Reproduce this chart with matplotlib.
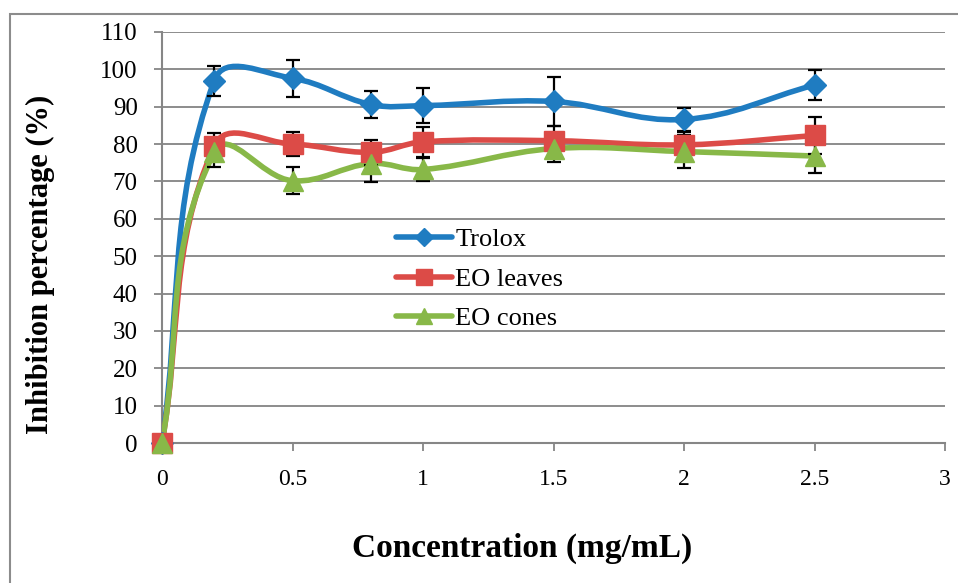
"""
Antioxidant activity: inhibition percentage vs concentration for Trolox and essential oils.
"""

import matplotlib

matplotlib.use("Agg")
import matplotlib.pyplot as plt
import numpy as np
from matplotlib.lines import Line2D
from matplotlib.patches import PathPatch, Rectangle
from matplotlib.path import Path

plt.rcParams["font.family"] = ["Liberation Serif", "DejaVu Serif"]

conc = [0, 0.2, 0.5, 0.8, 1.0, 1.5, 2.0, 2.5]

trolox = [0, 97.0, 97.6, 90.6, 90.3, 91.4, 86.6, 95.8]
trolox_err = [0, 4.0, 4.9, 3.7, 4.6, 6.5, 3.0, 4.0]

leaves = [0, 79.5, 80.0, 77.8, 80.6, 80.9, 79.8, 82.3]
leaves_err = [0, 3.5, 3.2, 3.4, 4.0, 4.0, 3.5, 5.0]

cones = [0, 77.8, 70.2, 74.8, 73.2, 78.8, 78.0, 76.8]
cones_err = [0, 3.8, 3.6, 5.0, 3.0, 3.6, 4.5, 4.5]

series_names = ["Trolox", "EO leaves", "EO cones"]
series_colors = ["#1f7cc1", "#dc4b47", "#88b848"]
series_markers = ["D", "s", "^"]
marker_sizes = [11, 14, 14]


def smooth_path(ax, x, y, k=0.38):
    # Excel-like smoothed line: cubic Bezier through each point, built in pixel space
    pts = ax.transData.transform(np.column_stack([x, y]))
    n = len(pts)
    verts = [pts[0]]
    codes = [Path.MOVETO]
    for i in range(n - 1):
        p0 = pts[max(i - 1, 0)]
        p1 = pts[i]
        p2 = pts[i + 1]
        p3 = pts[min(i + 2, n - 1)]
        d12 = np.hypot(*(p2 - p1))
        t1 = (p2 - p0) / np.hypot(*(p2 - p0))
        t2 = (p3 - p1) / np.hypot(*(p3 - p1))
        verts += [p1 + t1 * d12 * k, p2 - t2 * d12 * k, p2]
        codes += [Path.CURVE4] * 3
    verts = ax.transData.inverted().transform(np.array(verts))
    return Path(verts, codes)


fig = plt.figure(figsize=(9.58, 5.83), dpi=100)
ax = fig.add_axes([162 / 958, 1 - 443 / 583, 783 / 958, 411 / 583])

# outer chart frame
fig.patches.append(
    Rectangle((10 / 958, -0.05), 1.2, 1.05 - 14 / 583, transform=fig.transFigure,
              fill=False, edgecolor="#8c8c8c", linewidth=1.5)
)

ax.set_xlim(0, 3)
ax.set_ylim(0, 110)
ax.set_xticks(np.arange(0, 3.01, 0.5))
ax.set_xticklabels(["0", "0.5", "1", "1.5", "2", "2.5", "3"])
ax.set_yticks(np.arange(0, 111, 10))

for side in ["top", "right"]:
    ax.spines[side].set_visible(False)
for side in ["left", "bottom"]:
    ax.spines[side].set_color("#868686")
    ax.spines[side].set_linewidth(1.5)

ax.grid(axis="y", color="#8c8c8c", linewidth=1.4)
ax.set_axisbelow(True)
ax.tick_params(axis="both", direction="out", length=5.5, width=1.3, color="#868686",
               labelcolor="black")
ax.tick_params(axis="x", pad=13, labelsize=17)
ax.tick_params(axis="y", pad=12, labelsize=18)

data = [(trolox, trolox_err), (leaves, leaves_err), (cones, cones_err)]
handles = []
for (vals, errs), name, col, mk, ms in zip(data, series_names, series_colors,
                                            series_markers, marker_sizes):
    ax.add_patch(PathPatch(smooth_path(ax, conc, vals), facecolor="none", edgecolor=col,
                           linewidth=4, capstyle="round", joinstyle="round", zorder=3))
    ax.errorbar(conc[1:], vals[1:], yerr=errs[1:], fmt="none", ecolor="black",
                elinewidth=1.6, capsize=5, capthick=1.6, zorder=4)
    ax.plot(conc, vals, linestyle="none", marker=mk, markersize=ms, color=col,
            markeredgecolor=col, zorder=5, clip_on=False)
    handles.append(Line2D([], [], color=col, linewidth=4, marker=mk,
                          markersize=ms * 0.85, solid_capstyle="round"))

ax.legend(handles, series_names, loc="center left", bbox_to_anchor=(0.299, 0.399),
          frameon=False, fontsize=19, handlelength=2.1, handletextpad=0.15,
          labelspacing=0.6, borderpad=0, borderaxespad=0)

fig.text(40 / 958, 1 - 264 / 583, "Inhibition percentage (%)", rotation=90,
         ha="center", va="center", fontsize=22, fontweight="bold")
fig.text(522 / 958, 1 - 548 / 583, "Concentration (mg/mL)", ha="center", va="center",
         fontsize=24, fontweight="bold")

fig.savefig("out.png", dpi=100)
